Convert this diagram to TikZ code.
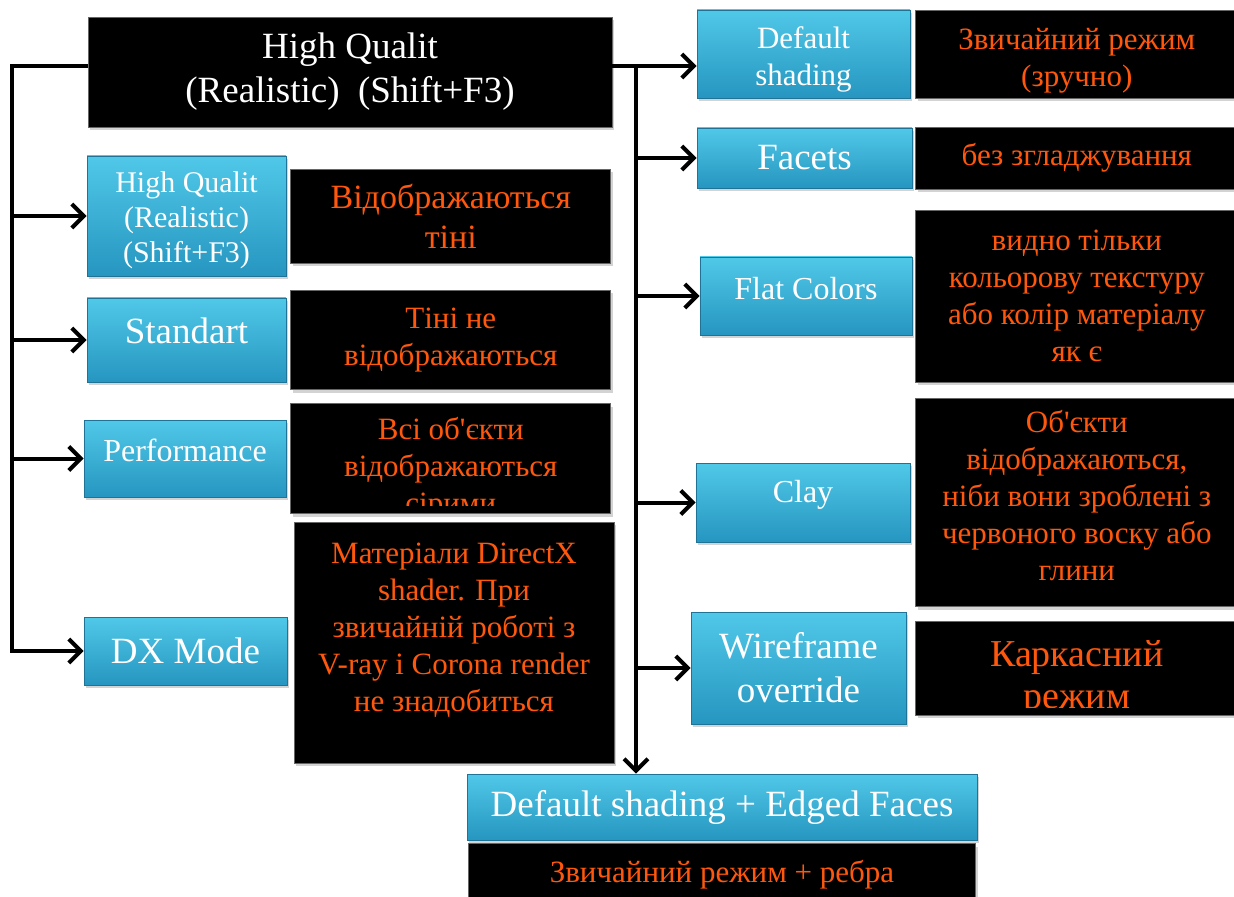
\documentclass[tikz,border=0pt]{standalone}
\usepackage{fontspec}
\setmainfont{Liberation Serif}
\usetikzlibrary{arrows.meta, positioning, shadows}
\definecolor{SkyTop}{RGB}{80, 200, 232}
\definecolor{SkyBottom}{RGB}{38, 150, 192}
\definecolor{SkyEdge}{RGB}{30, 115, 150}
\definecolor{Ember}{RGB}{255, 88, 12}
\newcommand{\bigfont}{\fontsize{18.5pt}{22pt}\selectfont}
\newcommand{\midfont}{\fontsize{15.5pt}{18.5pt}\selectfont}
\newcommand{\perffont}{\fontsize{16pt}{19pt}\selectfont}

\begin{document}
\begin{tikzpicture}[x=0.5pt, y=-0.5pt,
    boxsize/.style 2 args={minimum width=#1*0.5pt, minimum height=#2*0.5pt},
    bluebox/.style={draw=SkyEdge, top color=SkyTop, bottom color=SkyBottom, text=white, align=center, inner sep=0pt, drop shadow={opacity=0.35, shadow xshift=1pt, shadow yshift=-1.5pt}},
    darkbox/.style={draw=black!60, fill=black, text=Ember, align=center, inner sep=0pt, drop shadow={opacity=0.35, shadow xshift=1pt, shadow yshift=-1.5pt}},
    bluetext/.style={text=white, align=center},
    darktext/.style={text=Ember, align=center},
    link/.style={line width=2pt, -{Straight Barb[length=6pt, width=12pt]}}]
        \useasboundingbox (0,0) rectangle (1234,897);
        % top mode
        \node[darkbox, text=white, boxsize={524}{110}, font=\bigfont] (mode) at (350,72) {High Qualit\\(Realistic)\enspace(Shift+F3)};
        % left column
        \node[bluebox, boxsize={199}{120}] (hq) at (186.5,216) {};
        \begin{scope}
            \clip (hq.north west) rectangle ([yshift=3pt]hq.south east);
            \node[bluetext, font=\fontsize{15pt}{17.5pt}\selectfont] (hqtext) at ([yshift=-2pt]hq.center) {High Qualit\\(Realistic)\\(Shift+F3)};
        \end{scope}
        \node[bluebox, boxsize={199}{84}, font=\bigfont, text depth=9pt] (std) at (186.5,340) {Standart};
        \node[bluebox, boxsize={202}{77}, font=\perffont, text depth=8pt] (perf) at (185,458.5) {Performance};
        \node[bluebox, boxsize={203}{68}, font=\bigfont] (dx) at (185.5,651) {DX Mode};
        \node[darkbox, boxsize={320}{94}, font=\fontsize{17pt}{20pt}\selectfont, right=2pt of hq] (shadows) {Відображаються\\тіні};
        \node[darkbox, boxsize={320}{99}, font=\midfont, right=2pt of std] (noshadows) {Тіні не\\відображаються};
        \node[darkbox, boxsize={320}{110}, right=2pt of perf] (grey) {};
        \begin{scope}
            \clip (grey.north west) rectangle ([yshift=4pt]grey.south east);
            \node[darktext, font=\midfont] (greytext) at ([yshift=-5pt]grey.center) {Всі об\textquotesingle єкти\\відображаються\\сірими};
        \end{scope}
        \node[darkbox, boxsize={320}{241}] (dxnote) at (454,642.5) {};
        \node[darktext, font=\midfont] (dxtext) at ([yshift=6.25pt]dxnote.center) {Матеріали DirectX\\shader. При\\звичайній роботі з\\V-ray і Corona render\\не знадобиться};
        % right column
        \node[bluebox, boxsize={213}{88}] (plain) at (803.5,54) {};
        \node[bluetext, font=\midfont] (plaintext) at ([yshift=-2.5pt]plain.center) {Default\\shading};
        \node[bluebox, boxsize={215}{60}, font=\bigfont] (facets) at (804.5,158) {Facets};
        \node[bluebox, boxsize={212}{78}, font=\perffont, text depth=8pt] (flat) at (806,296) {Flat Colors};
        \node[bluebox, boxsize={214}{79}, font=\perffont, text depth=11pt] (clay) at (803,502.5) {Clay};
        \node[bluebox, boxsize={215}{112}, font=\bigfont] (wire) at (798.5,668) {Wireframe\\override};
        \node[bluebox, boxsize={510}{66}, font=\bigfont] (edged) at (722,807) {Default shading + Edged Faces};
        \node[darkbox, boxsize={322}{88}, right=2.5pt of plain] (plainnote) {};
        \node[darktext, font=\midfont] (plainnotetext) at ([yshift=-3.25pt]plainnote.center) {Звичайний режим\\(зручно)};
        \node[darkbox, boxsize={322}{62}, font=\midfont, right=1.5pt of facets] (facetsnote) {без згладжування};
        \node[darkbox, boxsize={322}{172}, font=\midfont, right=1.5pt of flat] (flatnote) {видно тільки\\кольорову текстуру\\або колір матеріалу\\як є};
        \node[darkbox, boxsize={322}{208}, right=2.5pt of clay] (claynote) {};
        \node[darktext, font=\midfont] (claytext) at ([yshift=3.25pt]claynote.center) {Об\textquotesingle єкти\\відображаються,\\ніби вони зроблені з\\червоного воску або\\глини};
        \node[darkbox, boxsize={322}{94}, right=4.5pt of wire] (wirenote) {};
        \begin{scope}
            \clip (wirenote.north west) rectangle ([yshift=4pt]wirenote.south east);
            \node[darktext, font=\fontsize{19pt}{21pt}\selectfont] (wiretext) at ([yshift=-5.5pt]wirenote.center) {Каркасний\\режим};
        \end{scope}
        \node[darkbox, boxsize={507}{62}, font=\midfont, below=1.5pt of edged] (edgednote) {Звичайний режим + ребра};
        % connectors
        \coordinate (lbus) at (12,66);
        \coordinate (rbus) at (636,66);
        \draw[link] (mode.west |- lbus) -- (lbus) |- (dx.west);
        \draw[link] (lbus |- hq.west) -- (hq.west);
        \draw[link] (lbus |- std.west) -- (std.west);
        \draw[link] (lbus |- perf.west) -- (perf.west);
        \draw[link] (mode.east |- rbus) -- (plain.west |- rbus);
        \draw[link] (rbus) -- (rbus |- edged.north);
        \draw[link] (rbus |- facets.west) -- (facets.west);
        \draw[link] (rbus |- flat.west) -- (flat.west);
        \draw[link] (rbus |- clay.west) -- (clay.west);
        \draw[link] (rbus |- wire.west) -- (wire.west);
    \end{tikzpicture}
\end{document}
